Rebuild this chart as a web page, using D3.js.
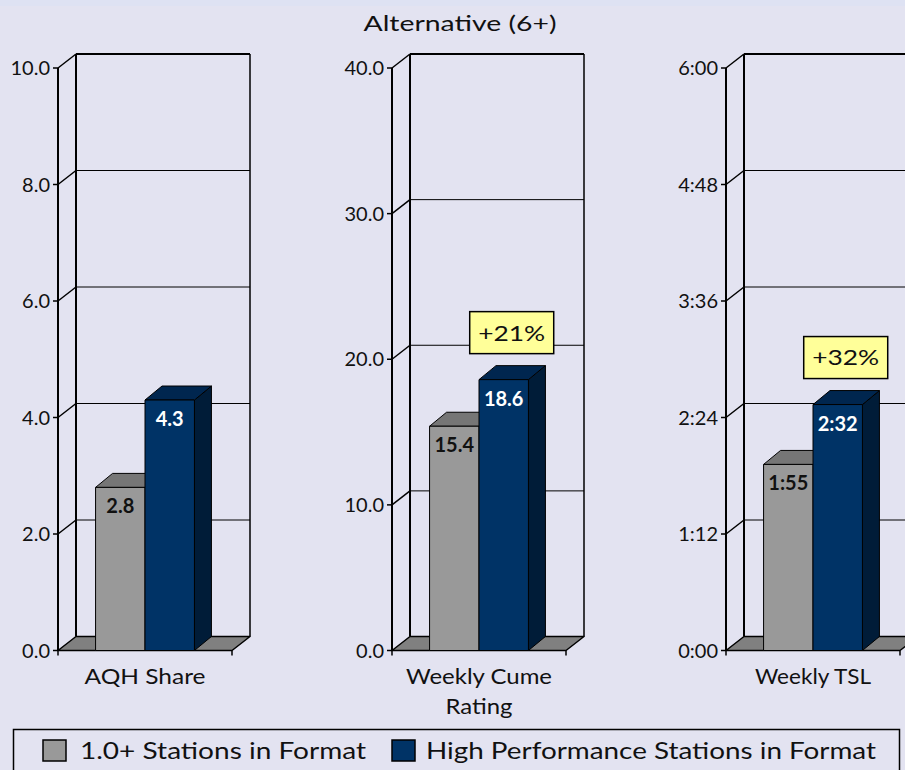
<!DOCTYPE html>
<html>
<head>
<meta charset="utf-8">
<script src="https://cdn.jsdelivr.net/npm/d3@7"></script>
<style>
  html, body { margin: 0; padding: 0; background: #E3E3F1; }
  svg { display: block; font-family: "Lato", "Open Sans", sans-serif; }
</style>
</head>
<body>
<svg id="chart" width="905" height="770"></svg>
<script>
// ---- data ----
const title = "Alternative (6+)";
const categories = ["AQH Share", "Weekly Cume Rating", "Weekly TSL"];
const categoryLines = [["AQH Share"], ["Weekly Cume", "Rating"], ["Weekly TSL"]];
const seriesNames = ["1.0+ Stations in Format", "High Performance Stations in Format"];
// TSL values are in minutes
const allStations = [2.8, 15.4, 115];
const highPerformance = [4.3, 18.6, 152];
const valueLabelsAll = ["2.8", "15.4", "1:55"];
const valueLabelsHigh = ["4.3", "18.6", "2:32"];
const axisMax = [10, 40, 360];
const axisTicks = [
  [0, 2, 4, 6, 8, 10],
  [0, 10, 20, 30, 40],
  [0, 72, 144, 216, 288, 360]
];
const tickLabels = [
  ["0.0", "2.0", "4.0", "6.0", "8.0", "10.0"],
  ["0.0", "10.0", "20.0", "30.0", "40.0"],
  ["0:00", "1:12", "2:24", "3:36", "4:48", "6:00"]
];
const lifts = [null, "+21%", "+32%"];

// ---- styling ----
const colors = {
  bg: "#E3E3F1",
  grayFront: "#999999", grayTop: "#767676", graySide: "#5f5f5f",
  blueFront: "#003366", blueTop: "#00264F", blueSide: "#001C38",
  floor: "#808080", lift: "#FFFF99"
};
const depth = { dx: 18, dy: 14 };     // wall / floor offset
const barDepth = { dx: 17, dy: 14 };  // bar offset
// rendered widths for the wide geometric lettering
const categoryWidths = [[121], [146, 67], [116]];
const liftWidth = 67;

const svg = d3.select("#chart");
svg.append("rect").attr("width", 905).attr("height", 770).attr("fill", colors.bg);
svg.append("rect").attr("width", 905).attr("height", 6).attr("fill", "#DEE2F3");

svg.append("text")
  .attr("x", 460).attr("y", 30.5)
  .attr("text-anchor", "middle")
  .attr("font-size", 21)
  .attr("textLength", 193).attr("lengthAdjust", "spacingAndGlyphs")
  .attr("fill", "#111")
  .text(title);

// panel placement: left edge of each front axis
const panelX = d3.scalePoint().domain(categories).range([58, 726]);
const panelW = 174;
const y0 = 650.5, yTop = 68;
const barX = d3.scaleBand().domain([0, 1]).range([0, panelW]).paddingOuter(0.76).paddingInner(0);

categories.forEach((cat, i) => {
  const x0 = panelX(cat);
  const y = d3.scaleLinear().domain([0, axisMax[i]]).range([y0, yTop]);
  const g = svg.append("g");
  const bx = x0 + depth.dx;          // back wall left
  const byOff = -depth.dy;

  // back-wall gridlines and side-wall diagonals
  axisTicks[i].forEach(t => {
    if (t === 0) return;
    const yy = y(t);
    g.append("line")
      .attr("x1", bx).attr("x2", bx + panelW)
      .attr("y1", yy + byOff).attr("y2", yy + byOff)
      .attr("stroke", "#000").attr("stroke-width", t === axisMax[i] ? 2 : 1);
    g.append("line")
      .attr("x1", x0).attr("x2", bx)
      .attr("y1", yy).attr("y2", yy + byOff)
      .attr("stroke", "#000").attr("stroke-width", 1.5);
  });
  // back wall vertical edges
  [bx, bx + panelW].forEach((xx, k) => {
    g.append("line")
      .attr("x1", xx).attr("x2", xx)
      .attr("y1", y(axisMax[i]) + byOff).attr("y2", y0 + byOff)
      .attr("stroke", "#000").attr("stroke-width", k === 0 ? 2 : 1.5);
  });

  // floor
  g.append("path")
    .attr("d", `M${x0},${y0}L${x0 + panelW},${y0}L${bx + panelW},${y0 + byOff}L${bx},${y0 + byOff}Z`)
    .attr("fill", colors.floor).attr("stroke", "#000").attr("stroke-width", 1.5)
    .attr("stroke-linejoin", "round");

  // front axis with ticks
  g.append("line")
    .attr("x1", x0).attr("x2", x0)
    .attr("y1", y(axisMax[i])).attr("y2", y0)
    .attr("stroke", "#000").attr("stroke-width", 2);
  axisTicks[i].forEach((t, k) => {
    g.append("line")
      .attr("x1", x0 - 5).attr("x2", x0)
      .attr("y1", y(t)).attr("y2", y(t))
      .attr("stroke", "#000").attr("stroke-width", 1.5);
    g.append("text")
      .attr("x", x0 - 8).attr("y", y(t))
      .attr("dy", "0.36em")
      .attr("text-anchor", "end")
      .attr("font-size", 20)
      .attr("fill", "#111")
      .text(tickLabels[i][k]);
  });
  // bottom category ticks
  [x0, x0 + panelW].forEach(xx => {
    g.append("line")
      .attr("x1", xx).attr("x2", xx)
      .attr("y1", y0).attr("y2", y0 + 5)
      .attr("stroke", "#000").attr("stroke-width", 1.5);
  });

  // bars
  const vals = [allStations[i], highPerformance[i]];
  const labs = [valueLabelsAll[i], valueLabelsHigh[i]];
  const fills = [
    [colors.grayFront, colors.grayTop, colors.graySide, "#111"],
    [colors.blueFront, colors.blueTop, colors.blueSide, "#fff"]
  ];
  vals.forEach((v, s) => {
    const xl = x0 + barX(s), xr = xl + barX.bandwidth();
    const yt = y(v);
    const dx = barDepth.dx, dy = barDepth.dy;
    const bg = g.append("g").attr("stroke", "#000").attr("stroke-width", 1).attr("stroke-linejoin", "round");
    bg.append("path")
      .attr("d", `M${xr},${y0}L${xr + dx},${y0 - dy}L${xr + dx},${yt - dy}L${xr},${yt}Z`)
      .attr("fill", fills[s][2]);
    bg.append("path")
      .attr("d", `M${xl},${yt}L${xl + dx},${yt - dy}L${xr + dx},${yt - dy}L${xr},${yt}Z`)
      .attr("fill", fills[s][1]);
    bg.append("rect")
      .attr("x", xl).attr("y", yt)
      .attr("width", xr - xl).attr("height", y0 - yt)
      .attr("fill", fills[s][0]);
    g.append("text")
      .attr("x", (xl + xr) / 2).attr("y", yt + 26)
      .attr("text-anchor", "middle")
      .attr("font-size", 20).attr("font-weight", "bold")
      .attr("fill", fills[s][3])
      .text(labs[s]);
  });

  // lift callout above the high-performance bar
  if (lifts[i]) {
    const xl = x0 + barX(1), xr = xl + barX.bandwidth();
    const cx = (xl + xr) / 2 + 8;
    const bottom = y(highPerformance[i]) - barDepth.dy - 12;
    g.append("rect")
      .attr("x", cx - 42).attr("y", bottom - 42)
      .attr("width", 84).attr("height", 42)
      .attr("fill", colors.lift).attr("stroke", "#000").attr("stroke-width", 1.5);
    g.append("text")
      .attr("x", cx).attr("y", bottom - 21)
      .attr("dy", "0.36em")
      .attr("text-anchor", "middle")
      .attr("font-size", 22)
      .attr("textLength", liftWidth).attr("lengthAdjust", "spacingAndGlyphs")
      .attr("fill", "#111")
      .text(lifts[i]);
  }

  // category label
  categoryLines[i].forEach((line, k) => {
    g.append("text")
      .attr("x", x0 + panelW / 2).attr("y", 684 + k * 30)
      .attr("text-anchor", "middle")
      .attr("font-size", 22)
      .attr("textLength", categoryWidths[i][k]).attr("lengthAdjust", "spacingAndGlyphs")
      .attr("fill", "#111")
      .text(line);
  });
});

// legend
const legend = svg.append("g");
legend.append("rect")
  .attr("x", 13.5).attr("y", 729.5).attr("width", 886).attr("height", 60)
  .attr("fill", "none").attr("stroke", "#000").attr("stroke-width", 1.5);
const legendItems = [
  { sw: 43, tx: 80, tw: 286, fill: colors.grayFront },
  { sw: 392, tx: 426, tw: 450, fill: colors.blueFront }
];
legendItems.forEach((d, k) => {
  legend.append("rect")
    .attr("x", d.sw).attr("y", 740).attr("width", 23).attr("height", 21)
    .attr("fill", d.fill).attr("stroke", "#000").attr("stroke-width", 1.5);
  legend.append("text")
    .attr("x", d.tx).attr("y", 758.5)
    .attr("font-size", 23.5)
    .attr("textLength", d.tw).attr("lengthAdjust", "spacingAndGlyphs")
    .attr("fill", "#111")
    .text(seriesNames[k]);
});
</script>
</body>
</html>
